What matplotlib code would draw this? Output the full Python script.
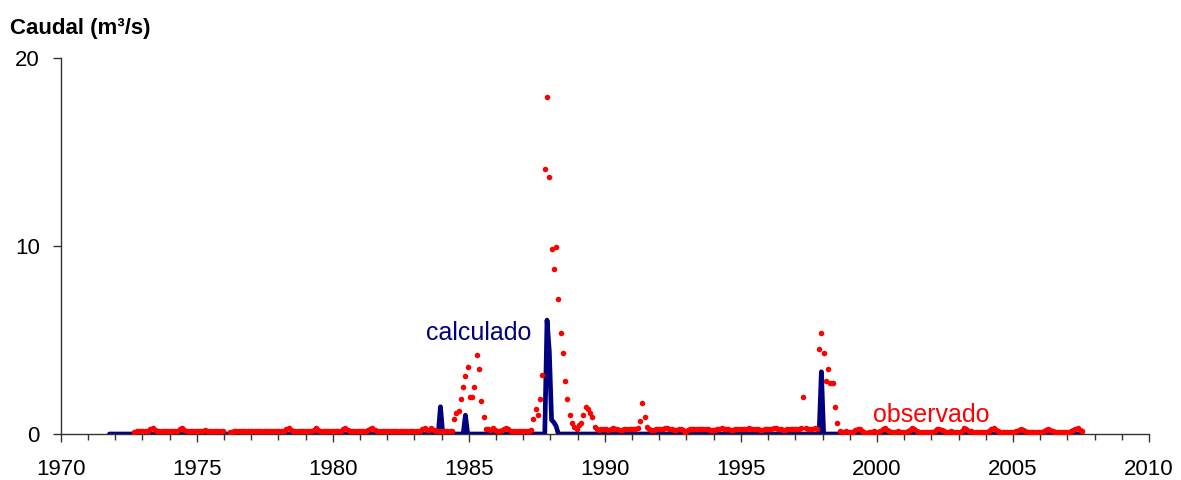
import numpy as np
import pandas as pd
import matplotlib
matplotlib.use('Agg')
import matplotlib.pyplot as plt
from matplotlib.ticker import MultipleLocator

plt.rcParams['font.family'] = ['Liberation Sans', 'DejaVu Sans']

nan = np.nan

# caudal observado, mensual (m3/s), de sep-1972 a jul-2007
obs_inicio = '1972-09'
obs_fin = '2007-07'
observado = [
    0.12, 0.15, 0.15, 0.15,                                             # 1972 (sep-dic)
    0.15, 0.15, 0.18, 0.25, 0.32, 0.22, 0.15, 0.15, 0.15, 0.15, 0.15, 0.15,  # 1973
    0.15, 0.15, 0.15, 0.18, 0.25, 0.32, 0.20, 0.15, 0.15, 0.15, 0.15, 0.15,  # 1974
    0.15, 0.15, 0.18, 0.20, 0.18, 0.15, 0.15, 0.15, 0.15, 0.15, 0.15, 0.15,  # 1975
    nan, nan, 0.12, 0.12, 0.15, 0.15, 0.15, 0.15, 0.15, 0.15, 0.15, 0.15,    # 1976
    0.15, 0.15, 0.15, 0.15, 0.15, 0.15, 0.15, 0.15, 0.15, 0.15, 0.15, 0.15,  # 1977
    0.15, 0.15, 0.18, 0.25, 0.32, 0.22, 0.15, 0.15, 0.15, 0.15, 0.15, 0.15,  # 1978
    0.15, 0.15, 0.15, 0.20, 0.30, 0.22, 0.15, 0.15, 0.15, 0.15, 0.15, 0.15,  # 1979
    0.15, 0.15, 0.15, 0.18, 0.25, 0.32, 0.22, 0.15, 0.15, 0.15, 0.15, 0.15,  # 1980
    0.15, 0.15, 0.15, 0.20, 0.28, 0.30, 0.20, 0.15, 0.15, 0.15, 0.15, 0.15,  # 1981
    0.15, 0.15, 0.15, 0.15, 0.15, 0.15, 0.15, 0.15, 0.15, 0.15, 0.15, 0.15,  # 1982
    0.15, 0.15, 0.18, 0.25, 0.30, 0.20, 0.22, 0.30, 0.20, 0.15, 0.15, 0.15,  # 1983
    0.15, 0.15, 0.15, 0.15, 0.15, 0.80, 1.10, 1.20, 1.86, 2.50, 3.10, 3.56,  # 1984
    1.97, 1.97, 2.50, 4.20, 3.46, 1.76, 0.90, 0.28, 0.25, 0.20, 0.30, 0.20,  # 1985
    0.18, 0.18, 0.20, 0.28, 0.33, 0.25, 0.18, 0.18, 0.18, 0.18, 0.18, 0.18,  # 1986
    0.18, 0.18, 0.18, 0.20, 0.80, 1.33, 1.00, 1.86, 3.14, 14.08, 17.93, 13.65,  # 1987
    9.82, 8.76, 9.93, 7.16, 5.37, 4.30, 2.84, 1.86, 1.00, 0.58, 0.37, 0.27,  # 1988
    0.48, 0.58, 1.00, 1.44, 1.33, 1.12, 0.90, 0.37, 0.25, 0.22, 0.25, 0.25,  # 1989
    0.25, 0.22, 0.25, 0.30, 0.27, 0.25, 0.22, 0.22, 0.25, 0.25, 0.27, 0.25,  # 1990
    0.25, 0.25, 0.30, 0.69, 1.65, 0.90, 0.37, 0.25, 0.22, 0.22, 0.25, 0.25,  # 1991
    0.25, 0.25, 0.30, 0.32, 0.27, 0.25, 0.22, 0.22, 0.25, 0.25, 0.20, 0.04,  # 1992
    0.22, 0.25, 0.25, 0.27, 0.27, 0.25, 0.25, 0.25, 0.25, 0.25, 0.22, 0.22,  # 1993
    0.22, 0.25, 0.25, 0.30, 0.27, 0.25, 0.25, 0.22, 0.22, 0.25, 0.25, 0.25,  # 1994
    0.25, 0.25, 0.27, 0.30, 0.27, 0.25, 0.25, 0.25, 0.22, 0.22, 0.25, 0.25,  # 1995
    0.25, 0.25, 0.30, 0.33, 0.27, 0.25, 0.22, 0.22, 0.25, 0.25, 0.25, 0.25,  # 1996
    0.25, 0.25, 0.33, 1.97, 0.30, 0.27, 0.25, 0.25, 0.30, 0.27, 4.52, 5.37,  # 1997
    4.30, 2.82, 3.46, 2.71, 2.71, 1.44, 0.59, 0.16, 0.12, 0.10, 0.15, 0.12,  # 1998
    0.10, 0.12, 0.20, 0.28, 0.25, 0.15, 0.10, 0.08, 0.10, 0.12, 0.15, 0.12,  # 1999
    0.12, 0.15, 0.25, 0.30, 0.20, 0.15, 0.12, 0.10, 0.12, 0.15, 0.12, 0.12,  # 2000
    0.12, 0.15, 0.22, 0.30, 0.25, 0.15, 0.12, 0.12, 0.12, 0.12, 0.12, 0.12,  # 2001
    0.12, 0.15, 0.25, 0.28, 0.20, 0.15, 0.12, 0.12, 0.15, 0.12, 0.12, 0.12,  # 2002
    0.12, 0.18, 0.30, 0.25, 0.18, 0.15, 0.12, 0.12, 0.12, 0.12, 0.12, 0.12,  # 2003
    0.12, 0.15, 0.25, 0.30, 0.22, 0.15, 0.12, 0.12, 0.12, 0.12, 0.12, 0.12,  # 2004
    0.12, 0.15, 0.20, 0.25, 0.20, 0.15, 0.12, 0.12, 0.12, 0.12, 0.12, 0.12,  # 2005
    0.12, 0.15, 0.22, 0.28, 0.22, 0.15, 0.12, 0.12, 0.12, 0.12, 0.12, 0.12,  # 2006
    0.12, 0.15, 0.20, 0.25, 0.30, 0.20, 0.15,                                # 2007 (ene-jul)
]

# caudal calculado: vertices de la linea (mes, valor), cero entre ellos
calc_fechas = ['1971-10', '1983-11', '1983-12', '1984-01', '1984-10', '1984-11',
               '1984-12', '1987-10', '1987-11', '1987-12', '1988-01', '1988-02',
               '1988-03', '1988-04', '1997-11', '1997-12', '1998-01', '2007-07']
calc_valores = [0, 0, 1.45, 0, 0, 1.0,
                0, 0, 6.06, 4.4, 0.75, 0.62,
                0.42, 0, 0, 3.31, 0, 0]

meses = pd.period_range(obs_inicio, obs_fin, freq='M')
assert len(meses) == len(observado)
x_obs = meses.year + (meses.month - 0.5) / 12

pc = pd.PeriodIndex(calc_fechas, freq='M')
x_calc = pc.year + (pc.month - 0.5) / 12

fig = plt.figure(figsize=(11.81, 4.8), dpi=100)
ax = fig.add_axes([0.0514, 0.0958, 0.9215, 0.7833])

ax.plot(x_calc, calc_valores, color='#000080', lw=3.4, solid_joinstyle='round',
        solid_capstyle='round', zorder=2)
ax.plot(x_obs, observado, ls='none', marker='o', ms=4.0, mew=0, color='#ff0000', zorder=3)

ax.set_xlim(1970, 2010)
ax.set_ylim(0, 20)
ax.xaxis.set_major_locator(MultipleLocator(5))
ax.xaxis.set_minor_locator(MultipleLocator(1))
ax.yaxis.set_major_locator(MultipleLocator(10))

for s in ['top', 'right']:
    ax.spines[s].set_visible(False)
for s in ['left', 'bottom']:
    ax.spines[s].set_color('#333333')
    ax.spines[s].set_linewidth(1)

ax.tick_params(axis='x', which='major', length=6, width=1, color='#333333', labelsize=16, pad=12)
ax.tick_params(axis='x', which='minor', length=4, width=1, color='#333333')
ax.tick_params(axis='y', which='major', length=6, width=1, color='#333333', labelsize=16, pad=9)

ax.text(1983.43, 5.0, 'calculado', color='#000080', fontsize=18, va='baseline', ha='left')
ax.text(1999.86, 0.65, 'observado', color='#ff0000', fontsize=18, va='baseline', ha='left')

fig.text(0.0085, 0.930, 'Caudal (m³/s)', fontsize=16, fontweight='bold', va='baseline', ha='left')

fig.savefig('out.png', dpi=100)
